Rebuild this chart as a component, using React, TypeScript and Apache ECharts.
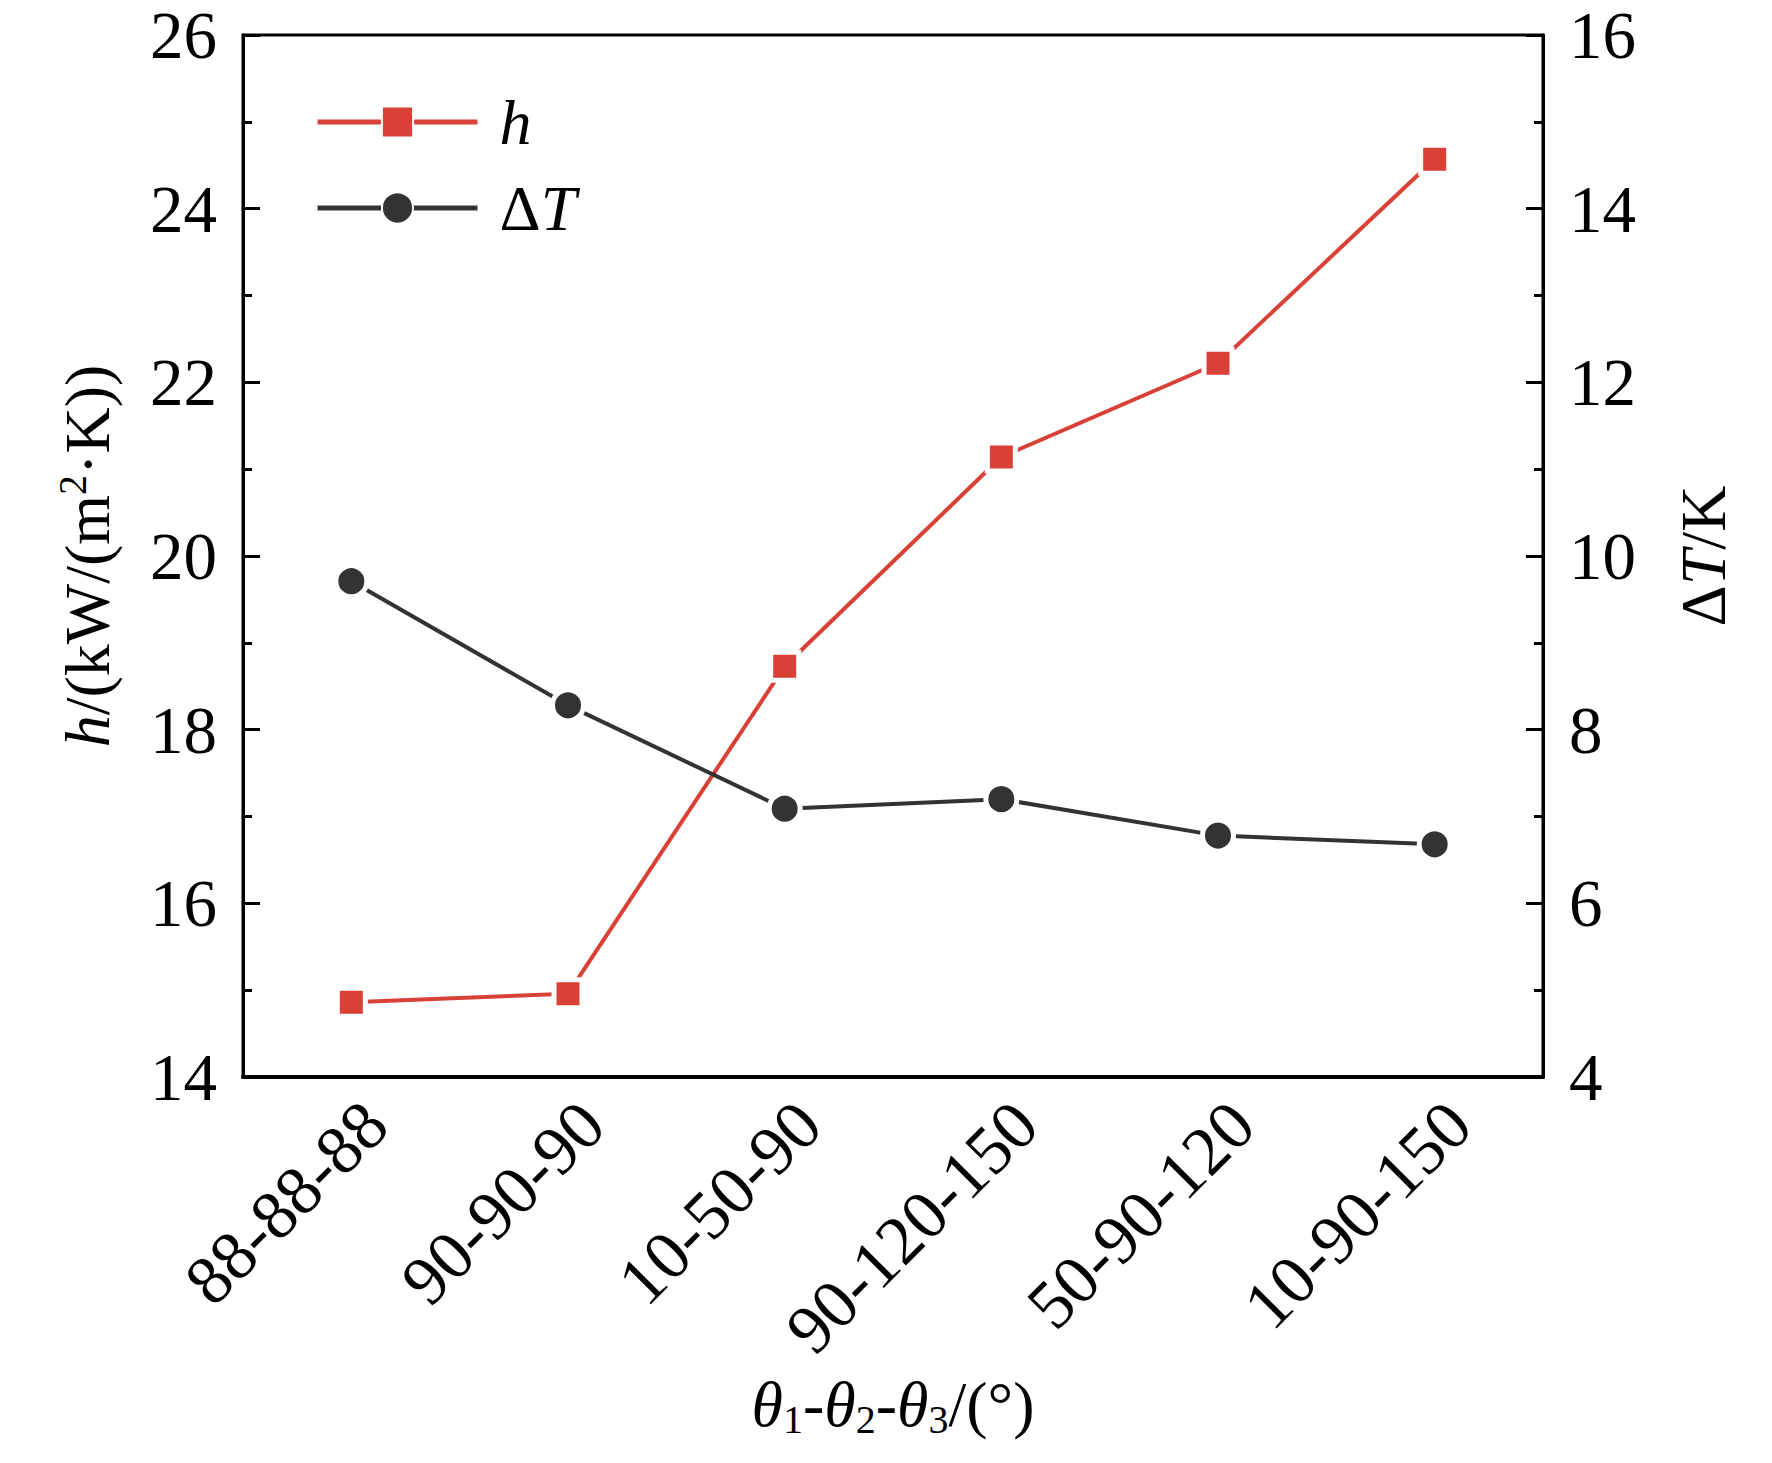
import { useEffect, useRef } from 'react';
import * as echarts from 'echarts';

const categories = ['88-88-88', '90-90-90', '10-50-90', '90-120-150', '50-90-120', '10-90-150'];
const hValues = [14.86, 14.96, 18.73, 21.14, 22.22, 24.57];
const dTValues = [9.71, 8.28, 7.09, 7.2, 6.78, 6.68];

const FONT = 'Liberation Serif';
const RED = '#d94137';
const DARK = '#333333';

const rich = {
  i: { fontFamily: FONT, fontStyle: 'italic' as const, fontSize: 64, color: '#000' },
  n: { fontFamily: FONT, fontSize: 64, color: '#000' },
  sup: { fontFamily: FONT, fontSize: 40, color: '#000', verticalAlign: 'top' as const, lineHeight: 70 },
  sub: { fontFamily: FONT, fontSize: 40, color: '#000', verticalAlign: 'bottom' as const, lineHeight: 70 },
};

export default function App() {
  const chartRef = useRef<HTMLDivElement>(null);

  useEffect(() => {
    document.body.style.margin = '0';
    if (!chartRef.current) return;
    const chart = echarts.init(chartRef.current, undefined, { renderer: 'svg' });

    const tickLabel = { fontFamily: FONT, fontSize: 67, color: '#000', margin: 26 };

    const yCommon = {
      type: 'value' as const,
      interval: 2,
      nameLocation: 'middle' as const,
      axisLine: { show: true, lineStyle: { color: '#000', width: 3 } },
      axisTick: { show: true, inside: true, length: 17, lineStyle: { color: '#000', width: 3 } },
      minorTick: { show: true, splitNumber: 2, length: 9, lineStyle: { color: '#000', width: 3 } },
      splitLine: { show: false },
      axisLabel: { ...tickLabel, lineHeight: 54 },
    };

    const option: echarts.EChartsOption = {
      animation: false,
      backgroundColor: '#fff',
      grid: {
        left: 243,
        right: 229,
        top: 35,
        bottom: 386,
        show: true,
        borderColor: '#000',
        borderWidth: 3,
      },
      legend: {
        left: 310,
        top: 85,
        orient: 'vertical',
        itemWidth: 160,
        itemHeight: 39,
        itemGap: 22,
        data: ['h', 'ΔT'],
        lineStyle: { width: 5 },
        formatter: (name: string) => (name === 'h' ? '{i|h}' : '{n|Δ}{i|T}'),
        textStyle: { fontFamily: FONT, fontSize: 64, lineHeight: 64, padding: [0, 0, 0, 17], rich },
      },
      xAxis: {
        type: 'category',
        data: categories,
        boundaryGap: true,
        name: '{i|θ}{sub|1}{n|-}{i|θ}{sub|2}{n|-}{i|θ}{sub|3}{n|/(°)}',
        nameLocation: 'middle',
        nameGap: 292,
        nameTextStyle: { fontFamily: FONT, fontSize: 64, color: '#000', rich },
        axisLine: { lineStyle: { color: '#000', width: 4 } },
        axisTick: { inside: true, alignWithLabel: true, length: 17, lineStyle: { color: '#000', width: 3 } },
        axisLabel: { ...tickLabel, fontSize: 69, margin: 12, verticalAlign: 'top', rotate: 45, interval: 0 },
      },
      yAxis: [
        {
          ...yCommon,
          min: 14,
          max: 26,
          position: 'left',
          name: '{i|h}{n|/(kW/(m}{sup|2}{n|·K))}',
          nameGap: 121,
          nameTextStyle: { fontFamily: FONT, fontSize: 64, color: '#000', rich },
        },
        {
          ...yCommon,
          min: 4,
          max: 16,
          position: 'right',
          name: '{n|Δ}{i|T}{n|/K}',
          nameGap: 128,
          nameRotate: 90,
          nameTextStyle: { fontFamily: FONT, fontSize: 64, color: '#000', rich },
        },
      ],
      series: [
        {
          name: 'h',
          type: 'line',
          yAxisIndex: 0,
          data: hValues,
          symbol: 'rect',
          symbolSize: 28,
          itemStyle: { color: RED, borderColor: '#fff', borderWidth: 5 },
          lineStyle: { color: RED, width: 4 },
        },
        {
          name: 'ΔT',
          type: 'line',
          yAxisIndex: 1,
          data: dTValues,
          symbol: 'circle',
          symbolSize: 31,
          itemStyle: { color: DARK, borderColor: '#fff', borderWidth: 5 },
          lineStyle: { color: DARK, width: 4 },
        },
      ],
    };

    chart.setOption(option);
    const handleResize = () => chart.resize();
    window.addEventListener('resize', handleResize);
    return () => {
      window.removeEventListener('resize', handleResize);
      chart.dispose();
    };
  }, []);

  return <div ref={chartRef} style={{ width: '100vw', height: '100vh' }} />;
}
